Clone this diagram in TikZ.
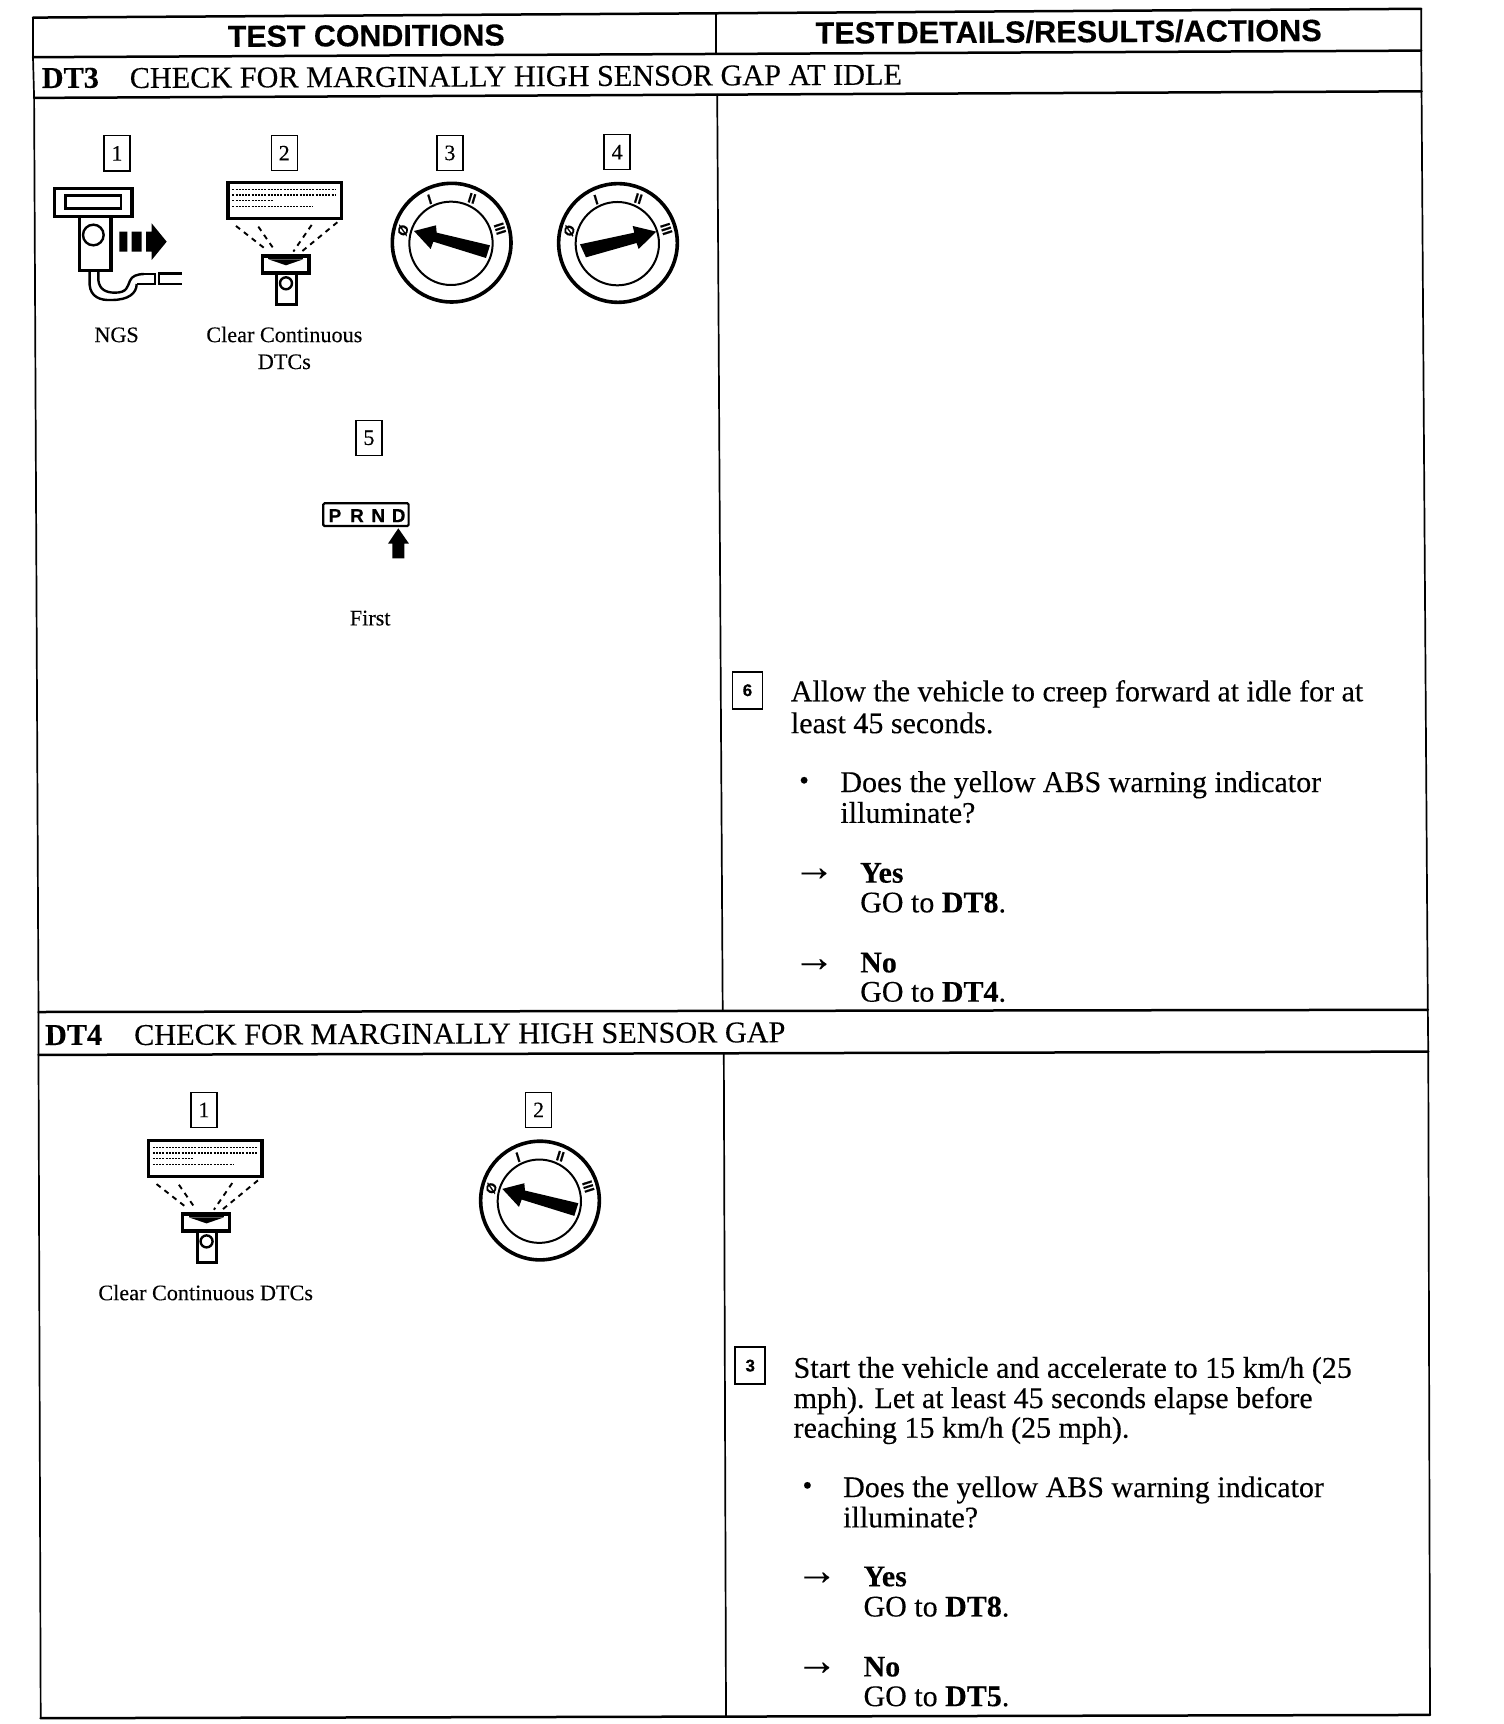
\documentclass[tikz,border=0pt]{standalone}
\usepackage{fontspec}
\setmainfont{Liberation Serif}[FakeBold=0.2]
\setsansfont{Liberation Sans}[FakeBold=0.35]
\usetikzlibrary{calc}
\newcommand{\bodyf}{\fontsize{15}{15.7}\selectfont}
\newcommand{\sectf}{\fontsize{15.12}{15.7}\selectfont}
\newcommand{\capf}{\fontsize{11.1}{13}\selectfont}
\newcommand{\headf}{\fontsize{15.2}{16}\selectfont\sffamily\bfseries}
\tikzset{
  framerule/.style={line width=1.25pt,line cap=round},
  framevrule/.style={line width=0.85pt,line cap=round},
  txt/.style={inner sep=0pt,outer sep=0pt,anchor=base west,font=\bodyf},
  headtxt/.style={inner sep=0pt,outer sep=0pt,anchor=base,font=\headf,rotate=0.3},
  secttxt/.style={txt,rotate=0.25,font=\sectf},
  captxt/.style={inner sep=0pt,outer sep=0pt,anchor=base,font=\capf},
  numbox/.style={draw,line width=0.65pt,inner sep=0pt,minimum width=13pt,minimum height=17.6pt,font=\fontsize{11}{11}\selectfont},
  numsans/.style={numbox,line width=0.8pt,minimum width=15pt,minimum height=18.5pt,font=\fontsize{8.5}{8.5}\selectfont\sffamily\bfseries},
  arrowmark/.style={inner sep=0pt,outer sep=0pt,font=\fontsize{21}{21}\selectfont},
  dotmark/.style={inner sep=0pt,outer sep=0pt,font=\fontsize{14}{14}\selectfont},
  keymark/.style={inner sep=0pt,outer sep=0pt,font=\fontsize{7}{7}\selectfont\sffamily\bfseries},
  prndmark/.style={inner sep=0pt,outer sep=0pt,font=\fontsize{9.5}{9.5}\selectfont\sffamily\bfseries},
  iconunits/.style={x=0.16667pt,y=-0.16667pt,line join=miter},
  rayline/.style={line width=0.95pt,dash pattern=on 2.6pt off 2.4pt},
}
% name prefix, centre (overview units), 1 = left pointer, 2 = right pointer
\newcommand{\keyswitch}[4]{%
  \begin{scope}[shift={(#2,#3)},iconunits]
    \draw[line width=1.8pt] (0,0) circle[radius=178];
    \draw[line width=1pt] (-2,2) circle[radius=125];
    \node[keymark,rotate=70] (#1z) at (-146,-37) {Ø};
    \node[keymark,rotate=17] (#1a) at (-66,-130) {I};
    \node[keymark,rotate=-17] (#1b) at (61,-133) {II};
    \node[keymark,rotate=-72] (#1c) at (145,-42) {III};
    \ifnum#4=1
      \fill (-113,-35) -- (-47,-52) -- (-45,-30) -- (115,8) -- (103,46) -- (-55,-3) -- (-63,19) -- cycle;
    \else
      \fill (115,-34) -- (44,-51) -- (49,-31) -- (-114,4) -- (-96,43) -- (56,0) -- (62,18) -- cycle;
    \fi
  \end{scope}}
\newcommand{\clearicon}[2]{%
  \begin{scope}[shift={(#1,#2)},iconunits]
    \draw[line width=1.6pt] (84,37) rectangle (424,146);
    \draw[line width=0.6pt,dash pattern=on 1pt off 0.6pt] (97,58) -- (408,58) (97,75) -- (408,75) (97,92) -- (220,92) (97,110) -- (340,110);
    \draw[rayline] (108,168) -- (200,240) (175,170) -- (222,238) (335,165) -- (280,245) (412,157) -- (305,245);
    \draw[line width=1.6pt] (187,258) rectangle (327,309);
    \fill (205,256) rectangle (310,268);
    \fill (205,268) -- (310,268) -- (258,286) -- cycle;
    \draw[line width=1.5pt] (231,309) -- (231,404) -- (289,404) -- (289,309);
    \draw[line width=1.2pt] (258,340) circle[radius=18];
  \end{scope}}
\begin{document}
\begin{tikzpicture}[x=0.55pt,y=-0.55pt]
\useasboundingbox (0,0) rectangle (1367.27,1567.27);
\fill[white] (0,0) rectangle (1367.27,1567.27);
% frame
\coordinate (tl) at (30,16); \coordinate (tm) at (651,13); \coordinate (tr) at (1292,8);
\coordinate (hl) at (30,52); \coordinate (hm) at (651,49); \coordinate (hr) at (1292,46);
\coordinate (al) at (31,89); \coordinate (am) at (652,86); \coordinate (ar) at (1292.3,83);
\coordinate (bl) at (35,920); \coordinate (bm) at (657,919); \coordinate (br) at (1298,918);
\coordinate (cl) at (35,959); \coordinate (cm) at (658,958); \coordinate (cr) at (1298.4,956);
\coordinate (dl) at (37,1562); \coordinate (dm) at (660,1560); \coordinate (dr) at (1300,1559);
\draw[framerule] (tl) -- (tr);
\draw[framerule] (hl) -- (hr);
\draw[framerule] (al) -- (ar);
\draw[framerule] (bl) -- (br);
\draw[framerule] (cl) -- (cr);
\draw[framerule] (dl) -- (dr);
\draw[framevrule] (tl) -- (hl) -- (al) -- (bl) -- (cl) -- (dl);
\draw[framevrule] (tr) -- (hr) -- (ar) -- (br) -- (cr) -- (dr);
\draw[framevrule] (tm) -- (hm);
\draw[framevrule] (am) -- (bm);
\draw[framevrule] (cm) -- (dm);
% headers
\node[headtxt] (h1) at (333,42) {TEST CONDITIONS};
\node[headtxt,font=\fontsize{15.35}{16}\selectfont\sffamily\bfseries] (h2) at (971.5,38.5) {TEST\kern0.08em DETAILS/RESULTS/ACTIONS};
\node[secttxt] (dt3) at (38,80) {\textbf{DT3}};
\node[secttxt] (dt3t) at (118,80) {CHECK FOR MARGINALLY HIGH SENSOR GAP AT IDLE};
\node[secttxt] (dt4) at (41,950) {\textbf{DT4}};
\node[secttxt] (dt4t) at (122,950) {CHECK FOR MARGINALLY HIGH SENSOR GAP};
% DT3 numbers
\node[numbox] (n1) at (106.4,139.4) {1};
\node[numbox] (n2) at (258.4,139.2) {2};
\node[numbox] (n3) at (409,139) {3};
\node[numbox] (n4) at (561,138.4) {4};
\node[numbox] (n5) at (335.4,398) {5};
\node[numbox] (m1) at (185.4,1009) {1};
\node[numbox] (m2) at (489.6,1009) {2};
\node[numsans] (n6) at (679.5,627.5) {6};
\node[numsans] (m3) at (682,1241.5) {3};
% NGS icon
\begin{scope}[shift={(36.36,118.18)},iconunits]
  \draw[line width=1.6pt] (44,176) rectangle (276,259);
  \draw[line width=1.4pt] (77,197) rectangle (243,236);
  \draw[line width=1.6pt] (119,259) -- (119,421) -- (213,421) -- (213,259);
  \draw[line width=1.2pt] (160,315) circle[radius=31];
  \fill (238,305) rectangle (262,365) (275,305) rectangle (305,365);
  \fill (318,305) -- (335,305) -- (335,280) -- (380,335) -- (335,390) -- (335,365) -- (318,365) -- cycle;
  \draw[line width=1.2pt] (149,425) -- (149,465) .. controls (152,500) and (180,512) .. (215,510) .. controls (265,510) and (290,490) .. (290,462);
  \draw[line width=1.2pt] (175,425) -- (175,450) .. controls (178,480) and (200,488) .. (225,488) .. controls (262,488) and (262,470) .. (270,452) .. controls (276,438) and (290,433) .. (312,432);
  \draw[line width=1.3pt] (312,432) -- (345,432) -- (345,462) -- (290,462);
  \draw[line width=1.3pt] (425,430) -- (357,430) -- (357,462) -- (425,462);
\end{scope}
\node[captxt] (ngs) at (106,311) {NGS};
% Clear icons
\clearicon{181.8}{154.5}
\node[captxt] (cc1) at (258.5,311) {Clear Continuous};
\node[captxt] (cc2) at (258.5,335.5) {DTCs};
\clearicon{109.6}{1025.5}
\node[captxt] (cc3) at (187,1182) {Clear Continuous DTCs};
% keys
\keyswitch{ka}{410.6}{220.6}{1}
\keyswitch{kb}{561.8}{220.9}{2}
\keyswitch{kc}{490.9}{1091.4}{1}
% PRND
\begin{scope}[shift={(272.7,381.8)},iconunits]
  \draw[line width=1.1pt,rounded corners=0.6pt] (70,250) rectangle (326,318);
  \node[prndmark] (pp) at (105,287) {P};
  \node[prndmark] (pr) at (171,287) {R};
  \node[prndmark] (pn) at (235,287) {N};
  \node[prndmark] (pd) at (296,287) {D};
  \fill (295,325) -- (327,371) -- (313,371) -- (313,415) -- (277,415) -- (277,371) -- (264,371) -- cycle;
\end{scope}
\node[captxt] (first) at (336.5,568.5) {First};
% DT3 right column
\node[txt] (a1) at (719,637.5) {Allow the vehicle to creep forward at idle for at};
\node[txt] (a2) at (719,666.5) {least 45 seconds.};
\node[dotmark] (a3) at (731,712) {•};
\node[txt] (a4) at (764,720) {Does the yellow ABS warning indicator};
\node[txt] (a5) at (764,748) {illuminate?};
\node[arrowmark] (a6) at (740,795) {→};
\node[txt] (a7) at (782,802.4) {\textbf{Yes}};
\node[txt] (a8) at (782,829.4) {GO to \textbf{DT8}.};
\node[arrowmark] (a9) at (740,877.5) {→};
\node[txt] (a10) at (782,884) {\textbf{No}};
\node[txt] (a11) at (782,910.6) {GO to \textbf{DT4}.};
% DT4 right column
\node[txt] (b1) at (721.5,1252.5) {Start the vehicle and accelerate to 15 km/h (25};
\node[txt] (b2) at (721.5,1280) {mph). Let at least 45 seconds elapse before};
\node[txt] (b3) at (721.5,1307) {reaching 15 km/h (25 mph).};
\node[dotmark] (b4) at (734,1353) {•};
\node[txt] (b5) at (766.5,1361) {Does the yellow ABS warning indicator};
\node[txt] (b6) at (766.5,1388.5) {illuminate?};
\node[arrowmark] (b7) at (742.5,1435) {→};
\node[txt] (b8) at (785,1442) {\textbf{Yes}};
\node[txt] (b9) at (785,1469.5) {GO to \textbf{DT8}.};
\node[arrowmark] (b10) at (742.5,1517) {→};
\node[txt] (b11) at (785,1524) {\textbf{No}};
\node[txt] (b12) at (785,1551) {GO to \textbf{DT5}.};
\end{tikzpicture}
\end{document}
